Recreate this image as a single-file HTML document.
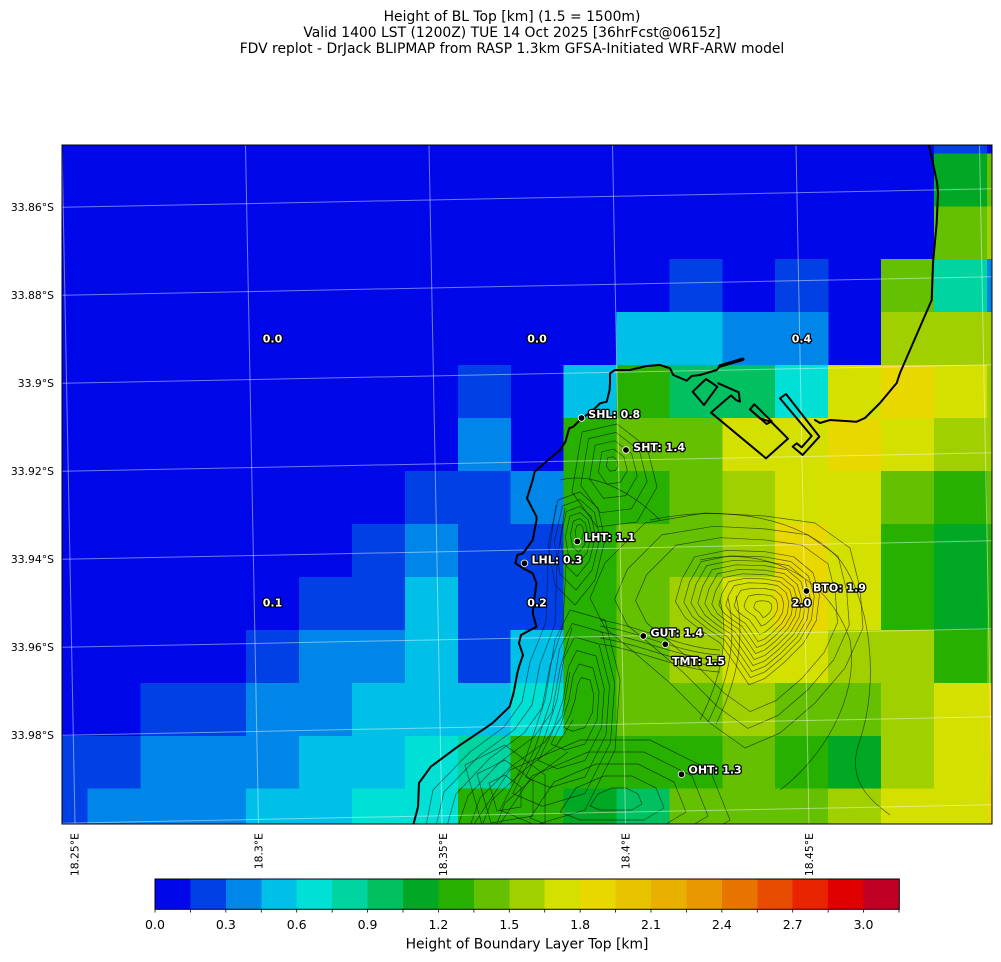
<!DOCTYPE html>
<html>
<head>
<meta charset="utf-8">
<style>
  html, body { margin:0; padding:0; background:#fff; }
  svg { display:block; }
  .k0{fill:rgb(0,8,234)} .k1{fill:rgb(0,64,228)} .k2{fill:rgb(0,134,232)} .k3{fill:rgb(0,192,232)}
  .k4{fill:rgb(0,224,212)} .k5{fill:rgb(0,212,160)} .k6{fill:rgb(0,192,96)} .k7{fill:rgb(0,168,36)}
  .k8{fill:rgb(40,176,0)} .k9{fill:rgb(100,192,0)} .k10{fill:rgb(160,208,0)} .k11{fill:rgb(212,224,0)}
  .k12{fill:rgb(232,216,0)} .k13{fill:rgb(232,196,0)} .k14{fill:rgb(232,176,0)} .k15{fill:rgb(232,152,0)}
  .k16{fill:rgb(232,116,0)} .k17{fill:rgb(232,76,0)} .k18{fill:rgb(232,36,0)} .k19{fill:rgb(224,0,0)} .k20{fill:rgb(192,0,36)}
  text { font-family: "DejaVu Sans", "Liberation Sans", sans-serif; }
  .lbl { font-weight:bold; font-size:11px; fill:#fff; stroke:#000; stroke-width:2.6px; paint-order:stroke; stroke-linejoin:round; }
  .ct { fill:none; stroke:rgba(0,0,0,0.6); stroke-width:0.7px; vector-effect:non-scaling-stroke; stroke-linejoin:round; }
</style>
</head>
<body>
<svg width="1001" height="962" viewBox="0 0 1001 962" xmlns="http://www.w3.org/2000/svg">
<defs>
  <clipPath id="plot"><rect x="62" y="145" width="930" height="679"/></clipPath>
</defs>

<!-- Title -->
<g font-size="13.9" fill="#000" text-anchor="middle">
  <text x="512" y="21">Height of BL Top [km] (1.5 = 1500m)</text>
  <text x="512" y="37">Valid 1400 LST (1200Z) TUE 14 Oct 2025 [36hrFcst@0615z]</text>
  <text x="512" y="53">FDV replot - DrJack BLIPMAP from RASP 1.3km GFSA-Initiated WRF-ARW model</text>
</g>

<g clip-path="url(#plot)">
  <rect x="62" y="145" width="930" height="679" class="k0"/>
  <g shape-rendering="crispEdges">
  <!-- r0 -->
  <rect x="933.9" y="145" width="53.2" height="8.6" class="k1"/>
  <!-- r1 -->
  <rect x="933.9" y="153.3" width="53.2" height="53.25" class="k7"/>
  <rect x="986.8" y="153.3" width="6" height="53.25" class="k9"/>
  <!-- r2 -->
  <rect x="933.9" y="206.25" width="53.2" height="53.25" class="k9"/>
  <rect x="986.8" y="206.25" width="6" height="53.25" class="k10"/>
  <!-- r3 -->
  <rect x="669.4" y="259.2" width="53.2" height="53.25" class="k1"/>
  <rect x="775.2" y="259.2" width="53.2" height="53.25" class="k1"/>
  <rect x="881" y="259.2" width="53.2" height="53.25" class="k9"/>
  <rect x="933.9" y="259.2" width="53.2" height="53.25" class="k5"/>
  <rect x="986.8" y="259.2" width="6" height="53.25" class="k2"/>
  <!-- r4 -->
  <rect x="616.5" y="312.15" width="53.2" height="53.25" class="k3"/>
  <rect x="669.4" y="312.15" width="53.2" height="53.25" class="k3"/>
  <rect x="722.3" y="312.15" width="53.2" height="53.25" class="k2"/>
  <rect x="775.2" y="312.15" width="53.2" height="53.25" class="k2"/>
  <rect x="881" y="312.15" width="53.2" height="53.25" class="k10"/>
  <rect x="933.9" y="312.15" width="53.2" height="53.25" class="k10"/>
  <rect x="986.8" y="312.15" width="6" height="53.25" class="k10"/>
  <!-- r5 -->
  <rect x="457.8" y="365.1" width="53.2" height="53.25" class="k1"/>
  <rect x="563.6" y="365.1" width="53.2" height="53.25" class="k3"/>
  <rect x="616.5" y="365.1" width="53.2" height="53.25" class="k8"/>
  <rect x="669.4" y="365.1" width="53.2" height="53.25" class="k6"/>
  <rect x="722.3" y="365.1" width="53.2" height="53.25" class="k6"/>
  <rect x="775.2" y="365.1" width="53.2" height="53.25" class="k4"/>
  <rect x="828.1" y="365.1" width="53.2" height="53.25" class="k11"/>
  <rect x="881" y="365.1" width="53.2" height="53.25" class="k12"/>
  <rect x="933.9" y="365.1" width="53.2" height="53.25" class="k11"/>
  <rect x="986.8" y="365.1" width="6" height="53.25" class="k10"/>
  <!-- r6 -->
  <rect x="457.8" y="418.05" width="53.2" height="53.25" class="k2"/>
  <rect x="563.6" y="418.05" width="53.2" height="53.25" class="k8"/>
  <rect x="616.5" y="418.05" width="53.2" height="53.25" class="k9"/>
  <rect x="669.4" y="418.05" width="53.2" height="53.25" class="k9"/>
  <rect x="722.3" y="418.05" width="53.2" height="53.25" class="k11"/>
  <rect x="775.2" y="418.05" width="53.2" height="53.25" class="k11"/>
  <rect x="828.1" y="418.05" width="53.2" height="53.25" class="k12"/>
  <rect x="881" y="418.05" width="53.2" height="53.25" class="k11"/>
  <rect x="933.9" y="418.05" width="53.2" height="53.25" class="k10"/>
  <rect x="986.8" y="418.05" width="6" height="53.25" class="k10"/>
  <!-- r7 -->
  <rect x="404.9" y="471" width="53.2" height="53.25" class="k1"/>
  <rect x="457.8" y="471" width="53.2" height="53.25" class="k1"/>
  <rect x="510.7" y="471" width="53.2" height="53.25" class="k2"/>
  <rect x="563.6" y="471" width="53.2" height="53.25" class="k8"/>
  <rect x="616.5" y="471" width="53.2" height="53.25" class="k8"/>
  <rect x="669.4" y="471" width="53.2" height="53.25" class="k9"/>
  <rect x="722.3" y="471" width="53.2" height="53.25" class="k10"/>
  <rect x="775.2" y="471" width="53.2" height="53.25" class="k11"/>
  <rect x="828.1" y="471" width="53.2" height="53.25" class="k11"/>
  <rect x="881" y="471" width="53.2" height="53.25" class="k9"/>
  <rect x="933.9" y="471" width="53.2" height="53.25" class="k8"/>
  <rect x="986.8" y="471" width="6" height="53.25" class="k9"/>
  <!-- r8 -->
  <rect x="352" y="523.95" width="53.2" height="53.25" class="k1"/>
  <rect x="404.9" y="523.95" width="53.2" height="53.25" class="k2"/>
  <rect x="457.8" y="523.95" width="53.2" height="53.25" class="k1"/>
  <rect x="510.7" y="523.95" width="53.2" height="53.25" class="k1"/>
  <rect x="563.6" y="523.95" width="53.2" height="53.25" class="k8"/>
  <rect x="616.5" y="523.95" width="53.2" height="53.25" class="k9"/>
  <rect x="669.4" y="523.95" width="53.2" height="53.25" class="k9"/>
  <rect x="722.3" y="523.95" width="53.2" height="53.25" class="k10"/>
  <rect x="775.2" y="523.95" width="53.2" height="53.25" class="k12"/>
  <rect x="828.1" y="523.95" width="53.2" height="53.25" class="k11"/>
  <rect x="881" y="523.95" width="53.2" height="53.25" class="k8"/>
  <rect x="933.9" y="523.95" width="53.2" height="53.25" class="k7"/>
  <rect x="986.8" y="523.95" width="6" height="53.25" class="k8"/>
  <!-- r9 -->
  <rect x="299.1" y="576.9" width="53.2" height="53.25" class="k1"/>
  <rect x="352" y="576.9" width="53.2" height="53.25" class="k1"/>
  <rect x="404.9" y="576.9" width="53.2" height="53.25" class="k3"/>
  <rect x="457.8" y="576.9" width="53.2" height="53.25" class="k1"/>
  <rect x="510.7" y="576.9" width="53.2" height="53.25" class="k1"/>
  <rect x="563.6" y="576.9" width="53.2" height="53.25" class="k8"/>
  <rect x="616.5" y="576.9" width="53.2" height="53.25" class="k9"/>
  <rect x="669.4" y="576.9" width="53.2" height="53.25" class="k10"/>
  <rect x="722.3" y="576.9" width="53.2" height="53.25" class="k11"/>
  <rect x="775.2" y="576.9" width="53.2" height="53.25" class="k12"/>
  <rect x="828.1" y="576.9" width="53.2" height="53.25" class="k11"/>
  <rect x="881" y="576.9" width="53.2" height="53.25" class="k8"/>
  <rect x="933.9" y="576.9" width="53.2" height="53.25" class="k7"/>
  <rect x="986.8" y="576.9" width="6" height="53.25" class="k8"/>
  <!-- r10 -->
  <rect x="246.2" y="629.85" width="53.2" height="53.25" class="k1"/>
  <rect x="299.1" y="629.85" width="53.2" height="53.25" class="k2"/>
  <rect x="352" y="629.85" width="53.2" height="53.25" class="k2"/>
  <rect x="404.9" y="629.85" width="53.2" height="53.25" class="k3"/>
  <rect x="457.8" y="629.85" width="53.2" height="53.25" class="k1"/>
  <rect x="510.7" y="629.85" width="53.2" height="53.25" class="k3"/>
  <rect x="563.6" y="629.85" width="53.2" height="53.25" class="k8"/>
  <rect x="616.5" y="629.85" width="53.2" height="53.25" class="k9"/>
  <rect x="669.4" y="629.85" width="53.2" height="53.25" class="k10"/>
  <rect x="722.3" y="629.85" width="53.2" height="53.25" class="k11"/>
  <rect x="775.2" y="629.85" width="53.2" height="53.25" class="k11"/>
  <rect x="828.1" y="629.85" width="53.2" height="53.25" class="k10"/>
  <rect x="881" y="629.85" width="53.2" height="53.25" class="k10"/>
  <rect x="933.9" y="629.85" width="53.2" height="53.25" class="k8"/>
  <rect x="986.8" y="629.85" width="6" height="53.25" class="k9"/>
  <!-- r11 -->
  <rect x="140.4" y="682.8" width="53.2" height="53.25" class="k1"/>
  <rect x="193.3" y="682.8" width="53.2" height="53.25" class="k1"/>
  <rect x="246.2" y="682.8" width="53.2" height="53.25" class="k2"/>
  <rect x="299.1" y="682.8" width="53.2" height="53.25" class="k2"/>
  <rect x="352" y="682.8" width="53.2" height="53.25" class="k3"/>
  <rect x="404.9" y="682.8" width="53.2" height="53.25" class="k3"/>
  <rect x="457.8" y="682.8" width="53.2" height="53.25" class="k3"/>
  <rect x="510.7" y="682.8" width="53.2" height="53.25" class="k4"/>
  <rect x="563.6" y="682.8" width="53.2" height="53.25" class="k8"/>
  <rect x="616.5" y="682.8" width="53.2" height="53.25" class="k9"/>
  <rect x="669.4" y="682.8" width="53.2" height="53.25" class="k9"/>
  <rect x="722.3" y="682.8" width="53.2" height="53.25" class="k10"/>
  <rect x="775.2" y="682.8" width="53.2" height="53.25" class="k9"/>
  <rect x="828.1" y="682.8" width="53.2" height="53.25" class="k9"/>
  <rect x="881" y="682.8" width="53.2" height="53.25" class="k10"/>
  <rect x="933.9" y="682.8" width="53.2" height="53.25" class="k11"/>
  <rect x="986.8" y="682.8" width="6" height="53.25" class="k12"/>
  <!-- r12 -->
  <rect x="62" y="735.75" width="25.8" height="53.25" class="k1"/>
  <rect x="87.5" y="735.75" width="53.2" height="53.25" class="k1"/>
  <rect x="140.4" y="735.75" width="53.2" height="53.25" class="k2"/>
  <rect x="193.3" y="735.75" width="53.2" height="53.25" class="k2"/>
  <rect x="246.2" y="735.75" width="53.2" height="53.25" class="k2"/>
  <rect x="299.1" y="735.75" width="53.2" height="53.25" class="k3"/>
  <rect x="352" y="735.75" width="53.2" height="53.25" class="k3"/>
  <rect x="404.9" y="735.75" width="53.2" height="53.25" class="k4"/>
  <rect x="457.8" y="735.75" width="53.2" height="53.25" class="k5"/>
  <rect x="510.7" y="735.75" width="53.2" height="53.25" class="k8"/>
  <rect x="563.6" y="735.75" width="53.2" height="53.25" class="k8"/>
  <rect x="616.5" y="735.75" width="53.2" height="53.25" class="k8"/>
  <rect x="669.4" y="735.75" width="53.2" height="53.25" class="k8"/>
  <rect x="722.3" y="735.75" width="53.2" height="53.25" class="k9"/>
  <rect x="775.2" y="735.75" width="53.2" height="53.25" class="k8"/>
  <rect x="828.1" y="735.75" width="53.2" height="53.25" class="k7"/>
  <rect x="881" y="735.75" width="53.2" height="53.25" class="k10"/>
  <rect x="933.9" y="735.75" width="53.2" height="53.25" class="k11"/>
  <rect x="986.8" y="735.75" width="6" height="53.25" class="k12"/>
  <!-- r13 -->
  <rect x="62" y="788.7" width="25.8" height="35.5" class="k1"/>
  <rect x="87.5" y="788.7" width="53.2" height="35.5" class="k2"/>
  <rect x="140.4" y="788.7" width="53.2" height="35.5" class="k2"/>
  <rect x="193.3" y="788.7" width="53.2" height="35.5" class="k2"/>
  <rect x="246.2" y="788.7" width="53.2" height="35.5" class="k3"/>
  <rect x="299.1" y="788.7" width="53.2" height="35.5" class="k3"/>
  <rect x="352" y="788.7" width="53.2" height="35.5" class="k4"/>
  <rect x="404.9" y="788.7" width="53.2" height="35.5" class="k4"/>
  <rect x="457.8" y="788.7" width="53.2" height="35.5" class="k8"/>
  <rect x="510.7" y="788.7" width="53.2" height="35.5" class="k8"/>
  <rect x="563.6" y="788.7" width="53.2" height="35.5" class="k7"/>
  <rect x="616.5" y="788.7" width="53.2" height="35.5" class="k6"/>
  <rect x="669.4" y="788.7" width="53.2" height="35.5" class="k9"/>
  <rect x="722.3" y="788.7" width="53.2" height="35.5" class="k9"/>
  <rect x="775.2" y="788.7" width="53.2" height="35.5" class="k9"/>
  <rect x="828.1" y="788.7" width="53.2" height="35.5" class="k10"/>
  <rect x="881" y="788.7" width="53.2" height="35.5" class="k11"/>
  <rect x="933.9" y="788.7" width="53.2" height="35.5" class="k11"/>
  <rect x="986.8" y="788.7" width="6" height="35.5" class="k12"/>
  </g>

  <!-- Topographic contours (approximate) -->
  <g>
    <!-- Table Mountain massif -->
    <g transform="translate(765,608)">
      <polygon class="ct" transform="scale(1)" points="-120,-85 -60,-95 0,-92 50,-85 85,-60 95,-20 98,20 80,60 50,95 15,125 -20,140 -55,115 -95,75 -130,45 -160,20 -175,-10 -160,-45"/>
      <polygon class="ct" transform="scale(0.86)" points="-120,-85 -60,-95 0,-92 50,-85 85,-60 95,-20 98,20 80,60 50,95 15,125 -20,140 -55,115 -95,75 -130,45 -160,20 -175,-10 -160,-45"/>
      <polygon class="ct" transform="scale(0.74)" points="-120,-85 -60,-95 0,-92 50,-85 85,-60 95,-20 98,20 80,60 50,95 15,125 -20,140 -55,115 -95,75 -130,45 -160,20 -175,-10 -160,-45"/>
      <polygon class="ct" transform="scale(0.64)" points="-110,-80 -60,-90 0,-88 45,-80 75,-55 85,-20 80,20 60,55 30,85 0,110 -25,120 -45,90 -70,55 -100,35 -125,15 -140,-10 -130,-45"/>
      <polygon class="ct" transform="scale(0.58)" points="-110,-80 -60,-90 0,-88 45,-80 75,-55 85,-20 80,20 60,55 30,85 0,110 -25,120 -45,90 -70,55 -100,35 -125,15 -140,-10 -130,-45"/>
      <polygon class="ct" transform="scale(0.53)" points="-110,-80 -60,-90 0,-88 45,-80 75,-55 85,-20 80,20 60,55 30,85 0,110 -25,120 -45,90 -70,55 -100,35 -125,15 -140,-10 -130,-45"/>
      <polygon class="ct" transform="scale(0.48)" points="-110,-80 -60,-90 0,-88 45,-80 75,-55 85,-20 80,20 60,55 30,85 0,110 -25,120 -45,90 -70,55 -100,35 -125,15 -140,-10 -130,-45"/>
      <polygon class="ct" transform="scale(0.43)" points="-110,-80 -60,-90 0,-88 45,-80 75,-55 85,-20 80,20 60,55 30,85 0,110 -25,120 -45,90 -70,55 -100,35 -125,15 -140,-10 -130,-45"/>
      <polygon class="ct" transform="scale(0.38)" points="-110,-80 -60,-90 0,-88 45,-80 75,-55 85,-20 80,20 60,55 30,85 0,110 -25,120 -45,90 -70,55 -100,35 -125,15 -140,-10 -130,-45"/>
      <polygon class="ct" transform="scale(0.33)" points="-110,-80 -60,-90 0,-88 45,-80 75,-55 85,-20 80,20 60,55 30,85 0,110 -25,120 -45,90 -70,55 -100,35 -125,15 -140,-10 -130,-45"/>
      <polygon class="ct" transform="scale(0.28)" points="-110,-80 -60,-90 0,-88 45,-80 75,-55 85,-20 80,20 60,55 30,85 0,110 -25,120 -45,90 -70,55 -100,35 -125,15 -140,-10 -130,-45"/>
      <polygon class="ct" transform="scale(0.22)" points="-110,-80 -60,-90 0,-88 45,-80 75,-55 85,-20 80,20 60,55 30,85 0,110 -25,120 -45,90 -70,55 -100,35 -125,15 -140,-10 -130,-45"/>
      <polygon class="ct" transform="scale(0.15)" points="-110,-80 -60,-90 0,-88 45,-80 75,-55 85,-20 80,20 60,55 30,85 0,110 -25,120 -45,90 -70,55 -100,35 -125,15 -140,-10 -130,-45"/>
      <polygon class="ct" transform="scale(0.08)" points="-110,-80 -60,-90 0,-88 45,-80 75,-55 85,-20 80,20 60,55 30,85 0,110 -25,120 -45,90 -70,55 -100,35 -125,15 -140,-10 -130,-45"/>
    </g>
    <!-- Lion's Head -->
    <g transform="translate(580,530)">
      <polygon class="ct" transform="scale(1)" points="-22,-30 0,-38 18,-22 25,10 15,50 -5,75 -25,55 -32,15"/>
      <polygon class="ct" transform="scale(0.8)" points="-22,-30 0,-38 18,-22 25,10 15,50 -5,75 -25,55 -32,15"/>
      <polygon class="ct" transform="scale(0.62)" points="-22,-30 0,-38 18,-22 25,10 15,50 -5,75 -25,55 -32,15"/>
      <polygon class="ct" transform="scale(0.46)" points="-22,-30 0,-38 18,-22 25,10 15,50 -5,75 -25,55 -32,15"/>
      <polygon class="ct" transform="scale(0.3)" points="-22,-30 0,-38 18,-22 25,10 15,50 -5,75 -25,55 -32,15"/>
      <polygon class="ct" transform="scale(0.15)" points="-22,-30 0,-38 18,-22 25,10 15,50 -5,75 -25,55 -32,15"/>
    </g>
    <!-- Signal Hill -->
    <g transform="translate(612,462)">
      <polygon class="ct" transform="scale(1)" points="-30,-30 5,-38 35,-15 45,25 25,60 -15,65 -40,30"/>
      <polygon class="ct" transform="scale(0.78)" points="-30,-30 5,-38 35,-15 45,25 25,60 -15,65 -40,30"/>
      <polygon class="ct" transform="scale(0.56)" points="-30,-30 5,-38 35,-15 45,25 25,60 -15,65 -40,30"/>
      <polygon class="ct" transform="scale(0.34)" points="-30,-30 5,-38 35,-15 45,25 25,60 -15,65 -40,30"/>
      <polygon class="ct" transform="scale(0.14)" points="-30,-30 5,-38 35,-15 45,25 25,60 -15,65 -40,30"/>
    </g>
    <!-- Twelve Apostles slope -->
    <g transform="translate(585,700)">
      <polygon class="ct" transform="scale(1)" points="-15,-90 20,-80 35,-20 30,50 0,110 -50,125 -85,110 -60,60 -40,0 -30,-60"/>
      <polygon class="ct" transform="scale(0.85)" points="-15,-90 20,-80 35,-20 30,50 0,110 -50,125 -85,110 -60,60 -40,0 -30,-60"/>
      <polygon class="ct" transform="scale(0.7)" points="-15,-90 20,-80 35,-20 30,50 0,110 -50,125 -85,110 -60,60 -40,0 -30,-60"/>
      <polygon class="ct" transform="scale(0.55)" points="-15,-90 20,-80 35,-20 30,50 0,110 -50,125 -85,110 -60,60 -40,0 -30,-60"/>
      <polygon class="ct" transform="scale(0.4)" points="-15,-90 20,-80 35,-20 30,50 0,110 -50,125 -85,110 -60,60 -40,0 -30,-60"/>
      <polygon class="ct" transform="scale(0.25)" points="-15,-90 20,-80 35,-20 30,50 0,110 -50,125 -85,110 -60,60 -40,0 -30,-60"/>
    </g>
    <!-- lines parallel to west coast -->
    <path class="ct" d="M426,826 L433,790 L470,752 L504,727 L522,702 L530,662 L546,622 L548,560 L556,505"/>
    <path class="ct" d="M436,826 L444,792 L480,755 L514,730 L532,705 L540,664 L555,624 L557,562 L565,508"/>
    <path class="ct" d="M447,826 L456,794 L490,758 L524,733 L542,708 L550,666 L563,626 L566,565"/>
    <path class="ct" d="M458,826 L468,796 L500,762 L534,737 L552,712 L560,668 L572,628"/>
    <path class="ct" d="M470,826 L480,798 L512,766 L545,742 L562,716 L570,672"/>
    <path class="ct" d="M482,826 L492,800 L524,770 L556,746 L573,720"/>
    <path class="ct" d="M496,826 L505,803 L537,775 L568,752"/>
    <!-- Southern hills -->
    <g transform="translate(620,800)">
      <polygon class="ct" transform="scale(1)" points="-150,30 -110,-30 -40,-60 30,-60 90,-30 110,20 60,50 -100,50"/>
      <polygon class="ct" transform="scale(0.8)" points="-150,30 -110,-30 -40,-60 30,-60 90,-30 110,20 60,50 -100,50"/>
      <polygon class="ct" transform="scale(0.6)" points="-150,30 -110,-30 -40,-60 30,-60 90,-30 110,20 60,50 -100,50"/>
      <polygon class="ct" transform="scale(0.4)" points="-150,30 -110,-30 -40,-60 30,-60 90,-30 110,20 60,50 -100,50"/>
      <polygon class="ct" transform="scale(0.2)" points="-150,30 -110,-30 -40,-60 30,-60 90,-30 110,20 60,50 -100,50"/>
    </g>
    <g transform="translate(505,795)">
      <polygon class="ct" transform="scale(1)" points="-40,-30 0,-50 40,-20 40,30 -20,40"/>
      <polygon class="ct" transform="scale(0.7)" points="-40,-30 0,-50 40,-20 40,30 -20,40"/>
      <polygon class="ct" transform="scale(0.4)" points="-40,-30 0,-50 40,-20 40,30 -20,40"/>
    </g>
    <path class="ct" d="M650,520 C720,505 800,515 840,560 C870,600 880,680 860,740 C845,780 870,800 890,815"/>
    <path class="ct" d="M700,560 C770,545 830,580 850,640 C860,700 820,760 780,790"/>
    <path class="ct" d="M600,620 C640,626 680,648 720,650"/>
    <path class="ct" d="M600,626 C640,632 680,653 720,655"/>
    <path class="ct" d="M600,632 C640,638 680,658 720,660"/>
    <path class="ct" d="M600,638 C640,644 680,664 720,666"/>
    <path class="ct" d="M600,644 C640,650 680,670 720,672"/>
    <path class="ct" d="M560,480 C600,470 640,500 660,520"/>
    <path class="ct" d="M720,600 C730,640 720,680 700,720"/>
    <path class="ct" d="M728,598 C738,640 728,682 708,722"/>
    <path class="ct" d="M736,596 C746,640 736,684 716,724"/>
  </g>

  <!-- Gridlines -->
  <g stroke="rgba(255,255,255,0.45)" stroke-width="1" fill="none">
    <line x1="62" y1="207.3" x2="992" y2="188.8"/>
    <line x1="62" y1="295.3" x2="992" y2="276.8"/>
    <line x1="62" y1="383.3" x2="992" y2="364.8"/>
    <line x1="62" y1="471.3" x2="992" y2="452.8"/>
    <line x1="62" y1="559.3" x2="992" y2="540.8"/>
    <line x1="62" y1="647.3" x2="992" y2="628.8"/>
    <line x1="62" y1="735.3" x2="992" y2="716.8"/>
    <line x1="62" y1="823.3" x2="992" y2="804.8"/>
    <line x1="62" y1="145" x2="75" y2="824"/>
    <line x1="245.5" y1="145" x2="258.5" y2="824"/>
    <line x1="429" y1="145" x2="442" y2="824"/>
    <line x1="612.5" y1="145" x2="625.5" y2="824"/>
    <line x1="796" y1="145" x2="809" y2="824"/>
    <line x1="979.5" y1="145" x2="992.5" y2="824"/>
  </g>

  <!-- Coastlines -->
  <g fill="none" stroke="#000" stroke-width="2" stroke-linejoin="round" stroke-linecap="round">
    <polyline points="413,826 413.5,824 418,807 419,783 430.8,766.7 457.7,746.7 492.3,723.3 509.6,706.7 513.5,693.3 517.3,673.3 519,666.7 523,655 519,643.3 521,635 527,631.7 536.5,626.7 532.7,613.3 534.6,596.7 536.5,583.3 532.7,573.3 523,568.3 515.4,563.3 517.3,555 523,553.3 532.7,540 536.5,520 536.5,516.7 527,498.3 532.7,480 534.6,471.7 551.9,456.7 560,450 565.4,441.7 569.2,428.3 573.3,426.7 580,420 593.3,410 600,403.3 606.7,401.7 609.6,390 610,383 610,373.3 615,370 630,370 646.7,366 660,365 670,368.3 673.3,375 686.7,380.7 691.7,376 700,375 716.7,370 720,366 742.7,359.3"/>
    <line x1="720" y1="366" x2="742.7" y2="359.3" stroke-width="3.5"/>
    <polyline points="929,145 937,182 938,193 936.7,223 933,263 931.7,300 920,327 900,373 896.7,383 880,403 865,418 856.7,421.7 830,420 820,423 815,420"/>
    <g transform="translate(660,350) scale(0.33333)" stroke-width="6">
      <polygon points="98,125 138,87 172,110 132,165"/>
      <polyline points="175,100 236,127 240,155 228,150 213,136 153,188 318,325 384,266 334,216 300,205 270,178"/>
      <polygon points="270,178 283,163 335,214 320,222"/>
      <polygon points="360,145 378,132 478,260 428,315 398,290 410,280 425,292 455,258"/>
    </g>
  </g>

  <!-- Station dots -->
  <g fill="#000" stroke="#fff" stroke-width="0.8">
    <circle cx="581.5" cy="418" r="3.3"/>
    <circle cx="626" cy="450" r="3.3"/>
    <circle cx="577.3" cy="541.5" r="3.3"/>
    <circle cx="524.5" cy="563.3" r="3.3"/>
    <circle cx="806.5" cy="591" r="3.3"/>
    <circle cx="643.3" cy="636" r="3.3"/>
    <circle cx="665.3" cy="644.3" r="3.3"/>
    <circle cx="681.5" cy="774.3" r="3.3"/>
  </g>

  <!-- Station labels -->
  <g>
    <text class="lbl" x="588.3" y="418">SHL: 0.8</text>
    <text class="lbl" x="633.3" y="451">SHT: 1.4</text>
    <text class="lbl" x="584.3" y="541">LHT: 1.1</text>
    <text class="lbl" x="531.5" y="563.5">LHL: 0.3</text>
    <text class="lbl" x="813" y="591.5">BTO: 1.9</text>
    <text class="lbl" x="650.5" y="636.5">GUT: 1.4</text>
    <text class="lbl" x="672" y="665">TMT: 1.5</text>
    <text class="lbl" x="688.5" y="773.5">OHT: 1.3</text>
  </g>
  <!-- Grid value labels -->
  <g text-anchor="middle">
    <text class="lbl" x="272.5" y="342.3">0.0</text>
    <text class="lbl" x="537" y="342.3">0.0</text>
    <text class="lbl" x="801.5" y="342.3">0.4</text>
    <text class="lbl" x="272.5" y="606.5">0.1</text>
    <text class="lbl" x="537" y="606.5">0.2</text>
    <text class="lbl" x="801.5" y="606.5">2.0</text>
  </g>
</g>

<!-- Plot frame -->
<rect x="62" y="145" width="930" height="679" fill="none" stroke="#000" stroke-width="1"/>

<!-- Latitude labels -->
<g font-size="10.8" fill="#000" text-anchor="end">
  <text x="54" y="211">33.86°S</text>
  <text x="54" y="299">33.88°S</text>
  <text x="54" y="387">33.9°S</text>
  <text x="54" y="475">33.92°S</text>
  <text x="54" y="563">33.94°S</text>
  <text x="54" y="651">33.96°S</text>
  <text x="54" y="739">33.98°S</text>
</g>

<!-- Longitude labels (rotated) -->
<g font-size="10.8" fill="#000" text-anchor="end">
  <text transform="translate(78.6,833) rotate(-90)">18.25°E</text>
  <text transform="translate(262.3,833) rotate(-90)">18.3°E</text>
  <text transform="translate(446.9,833) rotate(-90)">18.35°E</text>
  <text transform="translate(629.6,833) rotate(-90)">18.4°E</text>
  <text transform="translate(812.9,833) rotate(-90)">18.45°E</text>
</g>

<!-- Colorbar -->
<g shape-rendering="crispEdges">
  <rect x="155" y="879" width="35.8" height="30.3" class="k0"/>
  <rect x="190.43" y="879" width="35.8" height="30.3" class="k1"/>
  <rect x="225.86" y="879" width="35.8" height="30.3" class="k2"/>
  <rect x="261.29" y="879" width="35.8" height="30.3" class="k3"/>
  <rect x="296.71" y="879" width="35.8" height="30.3" class="k4"/>
  <rect x="332.14" y="879" width="35.8" height="30.3" class="k5"/>
  <rect x="367.57" y="879" width="35.8" height="30.3" class="k6"/>
  <rect x="403" y="879" width="35.8" height="30.3" class="k7"/>
  <rect x="438.43" y="879" width="35.8" height="30.3" class="k8"/>
  <rect x="473.86" y="879" width="35.8" height="30.3" class="k9"/>
  <rect x="509.29" y="879" width="35.8" height="30.3" class="k10"/>
  <rect x="544.71" y="879" width="35.8" height="30.3" class="k11"/>
  <rect x="580.14" y="879" width="35.8" height="30.3" class="k12"/>
  <rect x="615.57" y="879" width="35.8" height="30.3" class="k13"/>
  <rect x="651" y="879" width="35.8" height="30.3" class="k14"/>
  <rect x="686.43" y="879" width="35.8" height="30.3" class="k15"/>
  <rect x="721.86" y="879" width="35.8" height="30.3" class="k16"/>
  <rect x="757.29" y="879" width="35.8" height="30.3" class="k17"/>
  <rect x="792.71" y="879" width="35.8" height="30.3" class="k18"/>
  <rect x="828.14" y="879" width="35.8" height="30.3" class="k19"/>
  <rect x="863.57" y="879" width="35.8" height="30.3" class="k20"/>
</g>
<rect x="155" y="879" width="744.3" height="30.3" fill="none" stroke="#000" stroke-width="1"/>
<g stroke="#000" stroke-width="0.8">
  <line x1="155" y1="909" x2="155" y2="912.5"/>
  <line x1="190.43" y1="909" x2="190.43" y2="912.5"/>
  <line x1="225.86" y1="909" x2="225.86" y2="912.5"/>
  <line x1="261.29" y1="909" x2="261.29" y2="912.5"/>
  <line x1="296.71" y1="909" x2="296.71" y2="912.5"/>
  <line x1="332.14" y1="909" x2="332.14" y2="912.5"/>
  <line x1="367.57" y1="909" x2="367.57" y2="912.5"/>
  <line x1="403" y1="909" x2="403" y2="912.5"/>
  <line x1="438.43" y1="909" x2="438.43" y2="912.5"/>
  <line x1="473.86" y1="909" x2="473.86" y2="912.5"/>
  <line x1="509.29" y1="909" x2="509.29" y2="912.5"/>
  <line x1="544.71" y1="909" x2="544.71" y2="912.5"/>
  <line x1="580.14" y1="909" x2="580.14" y2="912.5"/>
  <line x1="615.57" y1="909" x2="615.57" y2="912.5"/>
  <line x1="651" y1="909" x2="651" y2="912.5"/>
  <line x1="686.43" y1="909" x2="686.43" y2="912.5"/>
  <line x1="721.86" y1="909" x2="721.86" y2="912.5"/>
  <line x1="757.29" y1="909" x2="757.29" y2="912.5"/>
  <line x1="792.71" y1="909" x2="792.71" y2="912.5"/>
  <line x1="828.14" y1="909" x2="828.14" y2="912.5"/>
  <line x1="863.57" y1="909" x2="863.57" y2="912.5"/>
  <line x1="899" y1="909" x2="899" y2="912.5"/>
</g>
<g font-size="12.5" fill="#000" text-anchor="middle">
  <text x="155" y="929">0.0</text>
  <text x="225.86" y="929">0.3</text>
  <text x="296.71" y="929">0.6</text>
  <text x="367.57" y="929">0.9</text>
  <text x="438.43" y="929">1.2</text>
  <text x="509.29" y="929">1.5</text>
  <text x="580.14" y="929">1.8</text>
  <text x="651" y="929">2.1</text>
  <text x="721.86" y="929">2.4</text>
  <text x="792.71" y="929">2.7</text>
  <text x="863.57" y="929">3.0</text>
</g>
<text x="527" y="948.5" font-size="13.9" fill="#000" text-anchor="middle">Height of Boundary Layer Top [km]</text>
</svg>
</body>
</html>
